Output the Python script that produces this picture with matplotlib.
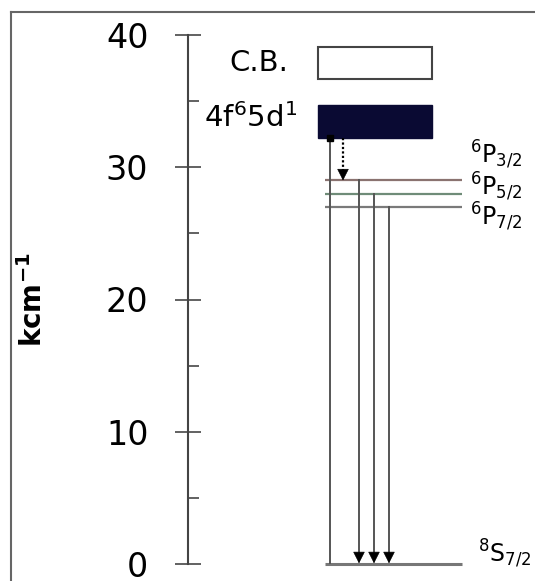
import matplotlib
matplotlib.use("Agg")
import matplotlib.pyplot as plt
from matplotlib.patches import Rectangle
from matplotlib.lines import Line2D

# ---- data (kcm^-1) ----
cb_band = [36.7, 39.1]          # conduction band (bottom, top)
fd_band = [32.2, 34.7]          # 4f6 5d1 band (bottom, top)
level_names = [r"$^{6}$P$_{3/2}$", r"$^{6}$P$_{5/2}$", r"$^{6}$P$_{7/2}$"]
level_values = [29.0, 28.0, 27.0]
ground_name = r"$^{8}$S$_{7/2}$"
ground_value = 0.0
yticks = [0, 10, 20, 30, 40]
yminor = [5, 15, 25, 35]

plt.rcParams['font.family'] = ['DejaVu Sans']
plt.rcParams['mathtext.default'] = 'regular'

W, H = 535, 581
fig = plt.figure(figsize=(W / 100, H / 100), dpi=100)
ax = fig.add_axes([188 / W, 17 / H, (W - 188) / W, 529 / H])
ax.set_xlim(188, W)
ax.set_ylim(0, 40)

for s in ['top', 'right', 'bottom']:
    ax.spines[s].set_visible(False)
ax.spines['left'].set_color('#444444')
ax.spines['left'].set_linewidth(1.5)
ax.set_xticks([])
ax.set_yticks(yticks)
ax.set_yticks(yminor, minor=True)
ax.tick_params(axis='y', which='major', direction='inout', length=19, width=1.3,
               color='#555555', labelsize=24, pad=19)
ax.tick_params(axis='y', which='minor', direction='in', length=8, width=1.3,
               color='#555555')

# layout (pixel-like x units)
bx0, bx1 = 318, 432
lx0, lx1 = 325, 462
lab_x = 470
level_colors = ['#8a7370', '#6f8c78', '#7a7a7a']

# bands
ax.add_patch(Rectangle((bx0, cb_band[0]), bx1 - bx0, cb_band[1] - cb_band[0],
                       facecolor='white', edgecolor='#444444', lw=1.5))
ax.add_patch(Rectangle((bx0, fd_band[0]), bx1 - bx0, fd_band[1] - fd_band[0],
                       facecolor='#0a0a33', edgecolor='#0a0a33', lw=1))
ax.text(288, sum(cb_band) / 2, "C.B.", ha='right', va='center', fontsize=21)
ax.text(297, sum(fd_band) / 2 + 0.3, r"4f$^{6}$5d$^{1}$", ha='right', va='center',
        fontsize=21)

# levels
for name, v, c, off in zip(level_names, level_values, level_colors, [1.9, 0.55, -0.75]):
    ax.plot([lx0, lx1], [v, v], color=c, lw=1.6, solid_capstyle='butt')
    ax.text(lab_x, v + off, name, ha='left', va='center', fontsize=17, clip_on=False)
ax.plot([lx0, lx1], [ground_value, ground_value], color='#777777', lw=2.2,
        solid_capstyle='butt', clip_on=False)
ax.text(lab_x + 8, ground_value + 0.8, ground_name, ha='left', va='center',
        fontsize=17, clip_on=False)

# line from 5d band to ground (no head)
ax.plot([330, 330], [fd_band[0], ground_value], color='#555555', lw=1.4)
ax.plot([330], [fd_band[0]], marker='s', ms=4, color='black')

# dotted non-radiative relaxation arrow
hl = 0.75
ax.plot([343, 343], [fd_band[0], level_values[0] + hl], color='black', lw=1.6,
        linestyle=(0, (1, 1)))
ax.annotate('', xy=(343, level_values[0]), xytext=(343, level_values[0] + hl),
            arrowprops=dict(arrowstyle='-|>,head_length=0.75,head_width=0.38',
                            color='black', lw=0.5, shrinkA=0, shrinkB=0))

# radiative transitions to ground state
for x, v in zip([359, 374, 389], level_values):
    ax.plot([x, x], [v, ground_value + hl], color='#555555', lw=1.4)
    ax.annotate('', xy=(x, ground_value + 0.05), xytext=(x, ground_value + hl),
                arrowprops=dict(arrowstyle='-|>,head_length=0.75,head_width=0.38',
                                color='black', lw=0.5, shrinkA=0, shrinkB=0),
                annotation_clip=False)

# y label
fig.text(33 / W, 1 - 300 / H, r"kcm$^{\mathbf{-1}}$", rotation=90, ha='center',
         va='center', fontsize=20, fontweight='bold')

# outer frame (left & top)
fig.add_artist(Line2D([11 / W, 11 / W], [0, 1 - 12 / H], color='#666666', lw=1.5))
fig.add_artist(Line2D([11 / W, 1], [1 - 12 / H, 1 - 12 / H], color='#666666', lw=1.5))

fig.savefig("out.png", dpi=100)
